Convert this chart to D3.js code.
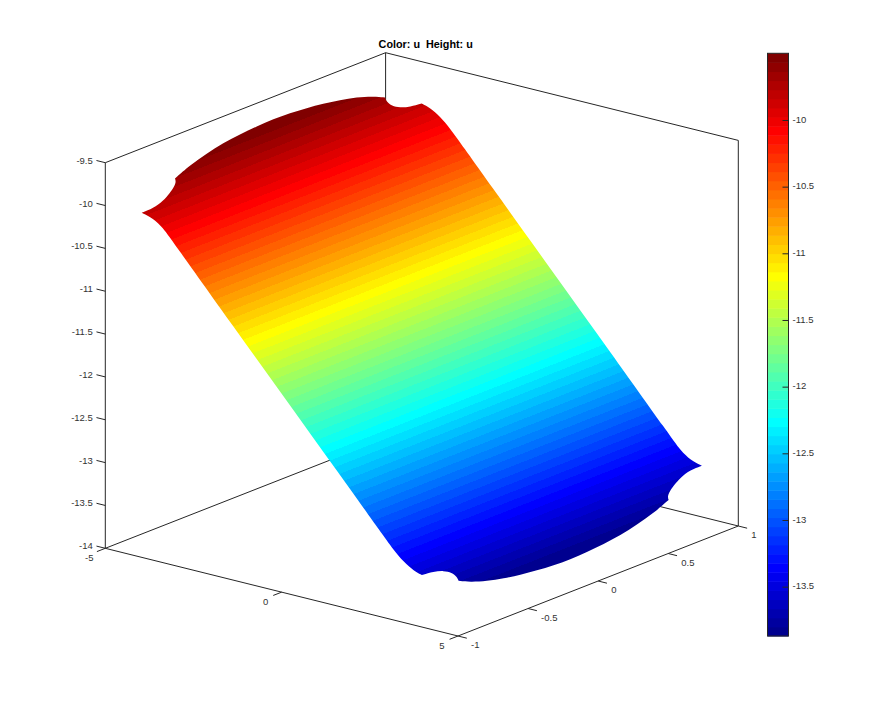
<!DOCTYPE html>
<html>
<head>
<meta charset="utf-8">
<title>Color: u  Height: u</title>
<script src="https://cdnjs.cloudflare.com/ajax/libs/d3/7.8.5/d3.min.js"></script>
<style>
  body { margin: 0; background: #fff; }
  text { font-family: "Liberation Sans", sans-serif; font-size: 9.5px; fill: #333; }
  .title { font-weight: bold; font-size: 10.8px; white-space: pre; fill: #000; }
</style>
</head>
<body>
<script>
// u read along x (surface is close to flat across y)
const profileX = [-4, -3, -2, -1, 0, 1, 2, 3, 4]
const profileU = [-9.43, -9.99, -10.56, -11.13, -11.69, -12.25, -12.82, -13.39, -13.95]

// half of the surface outline, left tip round to right tip. other half is the same turned 180deg
const edgeX = [-3.324, -3.322, -3.373, -3.449, -3.511, -3.570, -3.624, -3.728, -3.800, -3.858, -3.888, -3.908,
  -3.920, -3.912, -3.890, -3.860, -3.819, -3.764, -3.686, -3.603, -3.533, -3.449, -3.376, -3.333, -3.316,
  -3.210, -3.028, -2.809, -2.477, -1.878, -0.293, 1.219, 2.778, 2.989, 3.184]
const edgeY = [-1.162, -1.080, -0.996, -0.929, -0.884, -0.855, -0.849, -0.716, -0.578, -0.446, -0.319, -0.194,
  -0.073, 0.044, 0.158, 0.268, 0.377, 0.483, 0.582, 0.644, 0.639, 0.653, 0.694, 0.755, 0.834,
  0.866, 0.892, 0.908, 0.919, 0.938, 0.989, 1.036, 1.087, 1.094, 1.116]
// where the outline has a sharp corner (index into the half outline)
const edgeCorners = [0, 6, 19, 24, 35]

// axes
const xLim = [-5, 5]
const yLim = [-1, 1]
const zLim = [-14, -9.5]
const xTicks = [-5, 0, 5]
const yTicks = [-1, -0.5, 0, 0.5, 1]
const zTicks = [-9.5, -10, -10.5, -11, -11.5, -12, -12.5, -13, -13.5, -14]

// colour bar
const cLim = [-13.87, -9.5]
const cTicks = [-10, -10.5, -11, -11.5, -12, -12.5, -13, -13.5]
const nColors = 64

const w = 886, h = 715
const ink = '#262626'

const svg = d3.select('body').append('svg')
  .attr('width', w)
  .attr('height', h)

// the three axes are skewed, so each one gets a scale for sx and one for sy
const sxX = d3.scaleLinear().domain(xLim).range([0, 352.7])
const syX = d3.scaleLinear().domain(xLim).range([0, 87.7])
const sxY = d3.scaleLinear().domain(yLim).range([0, 280.3])
const syY = d3.scaleLinear().domain(yLim).range([0, -110])
const syZ = d3.scaleLinear().domain(zLim).range([0, -385.6])

const project = (x, y, z) => [
  105.3 + sxX(x) + sxY(y),
  548.3 + syX(x) + syY(y) + syZ(z)
]

const uOfX = d3.scaleLinear().domain(profileX).range(profileU)
const xOfU = d3.scaleLinear().domain(profileU).range(profileX)

// octave style jet
const jet = (v) => {
  const c = (n) => Math.round(255 * Math.max(0, Math.min(1, n)))
  const r = c(Math.min((v - 24) / 16, 1 + (56 - v) / 16))
  const g = c(Math.min((v - 8) / 16, (56 - v) / 16))
  const b = c(Math.min((v + 8) / 16, (40 - v) / 16))
  return `rgb(${r},${g},${b})`
}
const colors = d3.range(1, nColors + 1).map(jet)
const cStep = (cLim[1] - cLim[0]) / nColors

const seg = (a, b) => svg.append('line')
  .attr('x1', a[0]).attr('y1', a[1])
  .attr('x2', b[0]).attr('y2', b[1])
  .attr('stroke', ink)
  .attr('stroke-width', 1)

// box, drawn first so the surface sits on top
const [x0, x1] = xLim
const [y0, y1] = yLim
const [z0, z1] = zLim
seg(project(x0, y0, z0), project(x0, y0, z1))
seg(project(x1, y1, z0), project(x1, y1, z1))
seg(project(x0, y1, z0), project(x0, y1, z1))
seg(project(x0, y0, z0), project(x1, y0, z0))
seg(project(x1, y0, z0), project(x1, y1, z0))
seg(project(x0, y0, z0), project(x0, y1, z0))
seg(project(x0, y1, z0), project(x1, y1, z0))
seg(project(x0, y0, z1), project(x0, y1, z1))
seg(project(x0, y1, z1), project(x1, y1, z1))

// ticks
zTicks.forEach((t) => {
  const p = project(x0, y0, t)
  seg(p, project(x0 - 0.25, y0, t))
  svg.append('text').attr('x', p[0] - 12.5).attr('y', p[1] + 1)
    .attr('text-anchor', 'end').text(t)
})
xTicks.forEach((t) => {
  const p = project(t, y0, z0)
  seg(p, project(t, y0 - 0.06, z0))
  svg.append('text').attr('x', p[0] - 16).attr('y', p[1] + 13)
    .attr('text-anchor', 'middle').text(t)
})
yTicks.forEach((t) => {
  const p = project(x1, t, z0)
  seg(p, project(x1 + 0.25, t, z0))
  svg.append('text').attr('x', p[0] + 13).attr('y', p[1] + 12).text(t)
})

// surface bands, cut down to the outline
const smooth = d3.line().curve(d3.curveBasis)
const halfPath = (sign) => {
  const pts = edgeX.map((x, i) => project(sign * x, sign * edgeY[i], uOfX(sign * x)))
  // last point of the half is where the other half starts
  pts.push(project(-sign * edgeX[0], -sign * edgeY[0], uOfX(-sign * edgeX[0])))
  return d3.pairs(edgeCorners)
    .map(([a, b]) => smooth(pts.slice(a, b + 1)).replace('M', 'L'))
    .join('')
}
svg.append('clipPath').attr('id', 'surf')
  .append('path').attr('d', (halfPath(1) + halfPath(-1)).replace('L', 'M') + 'Z')

const bands = colors.map((c, i) => {
  let lo = cLim[0] + i * cStep
  let hi = lo + cStep
  if (i === 0) lo -= 0.3
  if (i === nColors - 1) hi += 0.3
  return { c, lo, hi }
})

svg.append('g')
  .attr('clip-path', 'url(#surf)')
  .selectAll('path')
  .data(bands)
  .enter()
  .append('path')
  .attr('fill', (d) => d.c)
  .attr('shape-rendering', 'crispEdges')
  .attr('d', (d) => {
    const a = xOfU(d.lo), b = xOfU(d.hi)
    return d3.line()([
      project(a, -1.5, d.lo), project(a, 1.5, d.lo),
      project(b, 1.5, d.hi), project(b, -1.5, d.hi)
    ]) + 'Z'
  })

// colour bar
const cbX = 767.5, cbW = 21
const cScale = d3.scaleLinear().domain(cLim).range([636, 53.3])

svg.append('g')
  .selectAll('rect')
  .data(bands)
  .enter()
  .append('rect')
  .attr('x', cbX)
  .attr('width', cbW)
  .attr('y', (d, i) => cScale(cLim[0] + (i + 1) * cStep))
  .attr('height', cScale(cLim[0]) - cScale(cLim[0] + cStep) + 0.5)
  .attr('fill', (d) => d.c)

svg.append('rect')
  .attr('x', cbX).attr('y', 53.3)
  .attr('width', cbW).attr('height', 636 - 53.3)
  .attr('fill', 'none')
  .attr('stroke', ink)

const cAxis = d3.axisRight(cScale)
  .tickValues(cTicks)
  .tickSize(-6)
  .tickPadding(4)
  .tickFormat((d) => String(d))

const cg = svg.append('g')
  .attr('transform', `translate(${cbX + cbW},0)`)
  .call(cAxis)
cg.select('.domain').remove()
cg.selectAll('line').attr('stroke', ink)
cg.selectAll('text').attr('font-size', null).attr('y', -1)
cg.attr('font-size', null).attr('font-family', null)

svg.append('text')
  .attr('class', 'title')
  .attr('x', 425.7)
  .attr('y', 48)
  .attr('text-anchor', 'middle')
  .text('Color: u  Height: u')
</script>
</body>
</html>
